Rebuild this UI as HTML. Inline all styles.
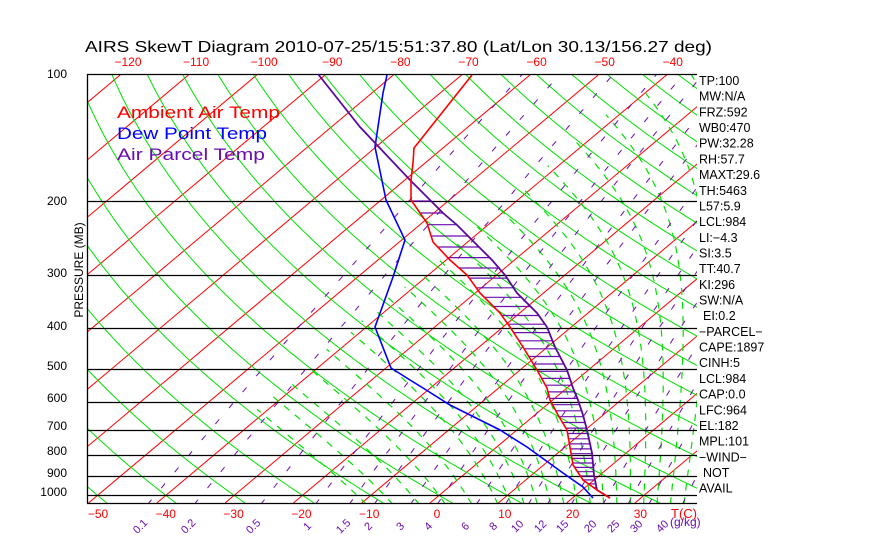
<!DOCTYPE html>
<html><head><meta charset="utf-8"><style>
html,body{margin:0;padding:0;background:#fff;}
svg{display:block;font-family:"Liberation Sans",sans-serif;}
</style></head><body>
<svg id="s" width="870" height="560" xmlns="http://www.w3.org/2000/svg">
<defs><clipPath id="c"><rect x="87" y="74" width="610" height="429"/></clipPath></defs>
<g id="grid" clip-path="url(#c)"></g>
<g id="data"></g>
<g id="txt"></g>
</svg>
<script>
const NS="http://www.w3.org/2000/svg";
const grid=document.getElementById('grid'),data=document.getElementById('data'),txt=document.getElementById('txt');
function X(T,y){return 430+6.83*T+(503-y)*1.191;}
function Y(p){return 74+183*Math.log(p/100);}
function pl(g,pts,col,w,dash){if(pts.length<2)return;const e=document.createElementNS(NS,'polyline');e.setAttribute('points',pts.map(p=>p[0].toFixed(1)+','+p[1].toFixed(1)).join(' '));e.setAttribute('fill','none');e.setAttribute('stroke',col);e.setAttribute('stroke-width',w);if(dash)e.setAttribute('stroke-dasharray',dash);g.appendChild(e);}
function tx(s,x,y,col,size,anchor,extra){const e=document.createElementNS(NS,'text');e.textContent=s;e.setAttribute('x',x);e.setAttribute('y',y);e.setAttribute('fill',col);e.setAttribute('font-size',size);if(anchor)e.setAttribute('text-anchor',anchor);if(extra)for(const k in extra)e.setAttribute(k,extra[k]);txt.appendChild(e);return e;}
for(let T=-170;T<=60;T+=10){pl(grid,[[X(T,503),503],[X(T,74),74]],'#ff0000',1);}
for(let th=-70;th<=250;th+=10){const pts=[];for(let p=1050;p>=95;p-=5){const T=(th+273.15)*Math.pow(p/1000,0.286)-273.15;const y=Y(p);pts.push([X(T,y),y]);}pl(grid,pts,'#00e000',1);}
function es(T){return 6.112*Math.exp(17.67*T/(T+243.5));}
const mlist=[-12,-8,-4,0,4,8,10,12,14,16,18,20,22,24,26,28,30,32,34,36,38,40];
for(const t0 of mlist){let T=t0+273.15;
 let Tc=T;const down=[];
 for(let pp=1000;pp<=1050;pp+=5){down.push([pp,Tc]);const rs=0.622*es(Tc-273.15)/(pp-es(Tc-273.15));const d=(287*Tc+2.5e6*rs)/(pp*(1005+2.5e6*2.5e6*rs*0.622/(287*Tc*Tc)));Tc+=d*5;}
 Tc=T;const up=[];
 for(let pp=1000;pp>=100;pp-=5){if(Tc-273.15<-42)break;up.push([pp,Tc]);const e=es(Tc-273.15);const rs=0.622*e/Math.max(pp-e,1);const d=(287*Tc+2.5e6*rs)/(pp*(1005+2.5e6*2.5e6*rs*0.622/(287*Tc*Tc)));Tc-=d*5;}
 const all=down.reverse().concat(up.slice(1));
 pl(grid,all.map(q=>{const y=Y(q[0]);return [X(q[1]-273.15,y),y];}),'#00e000',1.2,'7,7');}
const ws=[0.1,0.2,0.5,1,1.5,2,3,4,6,8,10,12,15,20,25,30,40];
for(const w of ws){const pts=[];for(let p=1050;p>=100;p-=10){const e=w*p/(622+w);const l=Math.log(e/6.112);const Td=243.5*l/(17.67-l);const y=Y(p);pts.push([X(Td,y),y]);}pl(grid,pts,'#6a0dad',1,'6,15');}
for(const p of [200,300,400,500,600,700,800,900,1000]){const y=Math.round(Y(p))+0.5;pl(data,[[87,y],[697,y]],'#000',1.3);}
pl(data,[[87,74.5],[697,74.5]],'#000',1.3);pl(data,[[87,503.5],[697,503.5]],'#000',1.3);pl(data,[[87.5,74],[87.5,503]],'#000',1.3);
const red=[[472,75],[414,148],[413,163],[411,180],[411,200],[427,223],[433,242],[450,260],[467,275],[480,293],[500,313],[510,327],[523,347],[537,370],[547,388],[550,400],[558,415],[567,430],[571,453],[573,465],[583,480],[597,490],[610,498]];
const pur=[[318,74],[360,127],[410,180],[430,200],[443,213],[457,225],[472,240],[492,260],[505,275],[517,293],[537,313],[547,327],[555,347],[567,370],[573,388],[578,400],[583,415],[587,430],[592,453],[594,475],[597,490],[610,498]];
const blu=[[387,75],[383,93],[375,147],[386,200],[405,240],[393,277],[375,327],[391,368],[410,380],[423,388],[450,405],[500,430],[527,447],[563,473],[583,487],[593,498]];
function at(poly,y){for(let i=0;i<poly.length-1;i++){const a=poly[i],b=poly[i+1];if(y>=a[1]&&y<=b[1]){const t=(y-a[1])/((b[1]-a[1])||1);return a[0]+t*(b[0]-a[0]);}}return null;}
for(let y=201;y<496;){const a=at(red,y),b=at(pur,y);if(a!=null&&b!=null&&b>a)pl(data,[[a,y],[b,y]],'#6a0dad',1.2);y+=12-(y-201)/294*8.5;}
pl(data,blu,'#0000ff',1.6);pl(data,pur,'#5a0a9a',1.8);pl(data,red,'#ff0000',1.6);
tx('AIRS SkewT Diagram 2010-07-25/15:51:37.80 (Lat/Lon 30.13/156.27 deg)',85,52,'#000',16,null,{textLength:627,lengthAdjust:'spacingAndGlyphs'});
[-120,-110,-100,-90,-80,-70,-60,-50,-40].forEach((t,i)=>tx(String(t).replace('-','\u2212'),128+68.1*i,66,'#ff0000',12,'middle'));
[-50,-40,-30,-20,-10,0,10,20,30].forEach((t,i)=>tx(String(t).replace('-','\u2212'),98+67.8*i,518,'#ff0000',12,'middle'));
tx('T(C)',684,518,'#ff0000',13,'middle');
const pl_=[[100,78],[200,205],[300,277],[400,330],[500,370],[600,402],[700,430],[800,455],[900,477],[1000,496]];
pl_.forEach(q=>tx(String(q[0]),67,q[1],'#000',12,'end'));
tx('PRESSURE (MB)',83,270,'#000',12,'middle',{transform:'rotate(-90 83 270)'});
tx('Ambient Air Temp',117,118,'#ff0000',17,null,{textLength:163,lengthAdjust:'spacingAndGlyphs'});
tx('Dew Point Temp',117,139,'#0000ff',17,null,{textLength:150,lengthAdjust:'spacingAndGlyphs'});
tx('Air Parcel Temp',117,160,'#6a0dad',17,null,{textLength:148,lengthAdjust:'spacingAndGlyphs'});
const wl=[['0.1',140],['0.2',188],['0.5',253],['1',307],['1.5',343],['2',368],['3',400],['4',428],['6',465],['8',493],['10',517],['12',540],['15',562],['20',590],['25',613],['30',636],['40',662]];
wl.forEach(q=>tx(q[0],q[1],530,'#6a0dad',11,'middle',{transform:'rotate(-45 '+q[1]+' 526)'}));
tx('(g/kg)',670,526,'#6a0dad',12);
const rt=['TP:100','MW:N/A','FRZ:592','WB0:470','PW:32.28','RH:57.7','MAXT:29.6','TH:5463','L57:5.9','LCL:984','LI:\u22124.3','SI:3.5','TT:40.7','KI:296','SW:N/A','EI:0.2','\u2212PARCEL\u2212','CAPE:1897','CINH:5','LCL:984','CAP:0.0','LFC:964','EL:182','MPL:101','\u2212WIND\u2212',' NOT','AVAIL'];
rt.forEach((s,i)=>tx(s,s==='EI:0.2'||s===' NOT'?703:699,85+15.68*i,'#000',12.5));
</script>
</body></html>
